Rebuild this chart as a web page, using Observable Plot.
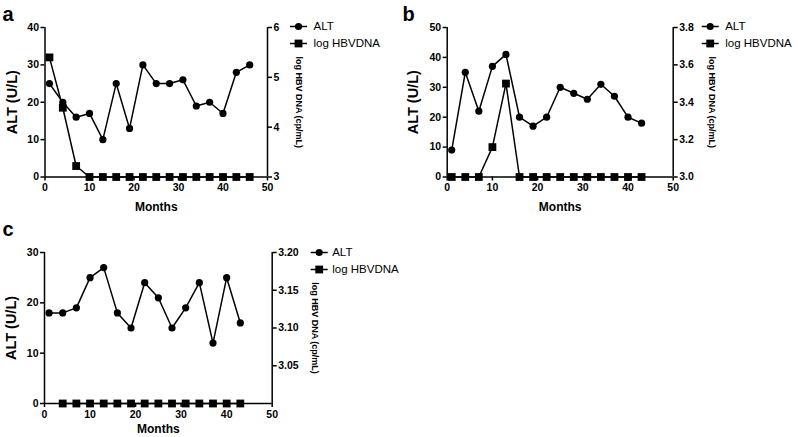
<!DOCTYPE html>
<html>
<head>
<meta charset="utf-8">
<script src="https://cdn.jsdelivr.net/npm/d3@7"></script>
<script src="https://cdn.jsdelivr.net/npm/@observablehq/plot@0.6"></script>
<style>
  body { margin: 0; background: #fff; }
  #wrap { position: relative; width: 798px; height: 437px; background: #fff; font-family: "Liberation Sans", Arial, sans-serif; }
  .panel { position: absolute; }
</style>
</head>
<body>
<div id="wrap"></div>
<script>
// ---------- Data ----------
const xTicks = [0, 10, 20, 30, 40, 50];

// Panel a
const monthsA = [1, 4, 7, 10, 13, 16, 19, 22, 25, 28, 31, 34, 37, 40, 43, 46];
const altA = [25, 20, 16, 17, 10, 25, 13, 30, 25, 25, 26, 19, 20, 17, 28, 30];
const hbvA = [5.4, 4.39, 3.22, 3, 3, 3, 3, 3, 3, 3, 3, 3, 3, 3, 3, 3];
const altTicksA = [0, 10, 20, 30, 40];
const hbvTicksA = [3, 4, 5, 6];

// Panel b
const monthsB = [1, 4, 7, 10, 13, 16, 19, 22, 25, 28, 31, 34, 37, 40, 43];
const altB = [9, 35, 22, 37, 41, 20, 17, 20, 30, 28, 26, 31, 27, 20, 18];
const hbvB = [3, 3, 3, 3.16, 3.5, 3, 3, 3, 3, 3, 3, 3, 3, 3, 3];
const altTicksB = [0, 10, 20, 30, 40, 50];
const hbvTicksB = [3.0, 3.2, 3.4, 3.6, 3.8];

// Panel c
const monthsC = [1, 4, 7, 10, 13, 16, 19, 22, 25, 28, 31, 34, 37, 40, 43];
const altC = [18, 18, 19, 25, 27, 18, 15, 24, 21, 15, 19, 24, 12, 25, 16];
const hbvMonthsC = [4, 7, 10, 13, 16, 19, 22, 25, 28, 31, 34, 37, 40, 43];
const hbvC = [3, 3, 3, 3, 3, 3, 3, 3, 3, 3, 3, 3, 3, 3];
const altTicksC = [0, 10, 20, 30];
const hbvTicksC = [3.05, 3.10, 3.15, 3.20];

const seriesNames = ["ALT", "log HBVDNA"];
const panelLetters = ["a", "b", "c"];
const altTitle = "ALT (U/L)";
const hbvTitle = "log HBV DNA (cp/mL)";
const xTitle = "Months";

// ---------- Drawing ----------
const FONT = '"Liberation Sans", Arial, Helvetica, sans-serif';
const legendLine = { draw(ctx) { ctx.moveTo(-8.5, 0); ctx.lineTo(8.5, 0); } };

function makePanel(cfg) {
  const { left, top, width, height, mL, mR, mT, mB,
    altMonths, alt, hbvMonths, hbv, altMax, altTicks,
    hbvMin, hbvMax, hbvTicks, digits, letter,
    legDx, legTextDx, legDy0, legDy1, titleDx, yTitleDx, xTitleDy } = cfg;
  const toY = v => (v - hbvMin) / (hbvMax - hbvMin) * altMax;
  const fromY = y => hbvMin + y / altMax * (hbvMax - hbvMin);
  const altData = altMonths.map((m, i) => ({ month: m, value: alt[i] }));
  const hbvData = hbvMonths.map((m, i) => ({ month: m, value: hbv[i] }));
  const axisStyle = { fontSize: 10.5, fontWeight: "bold", tickSize: 4, strokeWidth: 1.5, label: null };

  const svg = Plot.plot({
    width, height,
    marginLeft: mL, marginRight: mR, marginTop: mT, marginBottom: mB,
    x: { domain: [0, 50] },
    y: { domain: [0, altMax] },
    style: { fontFamily: FONT, color: "black", background: "white" },
    marks: [
      Plot.axisX({ ...axisStyle, ticks: xTicks, tickPadding: 3 }),
      Plot.axisY({ ...axisStyle, anchor: "left", ticks: altTicks, tickPadding: 2 }),
      Plot.axisY({ ...axisStyle, anchor: "right", tickPadding: 2,
        ticks: hbvTicks.map(toY),
        tickFormat: d => fromY(d).toFixed(digits) }),
      Plot.ruleX([0], { strokeWidth: 1.5 }),
      Plot.ruleX([50], { strokeWidth: 1.5 }),
      Plot.ruleY([0], { strokeWidth: 1.5 }),
      // ALT series
      Plot.line(altData, { x: "month", y: "value", stroke: "black", strokeWidth: 1.5 }),
      Plot.dot(altData, { x: "month", y: "value", r: 3.6, fill: "black", symbol: "circle" }),
      // log HBV DNA series (mapped to right axis)
      Plot.line(hbvData, { x: "month", y: d => toY(d.value), stroke: "black", strokeWidth: 1.5 }),
      Plot.dot(hbvData, { x: "month", y: d => toY(d.value), r: 4.4, fill: "black", symbol: "square" }),
      // axis titles
      Plot.text([altTitle], { frameAnchor: "left", dx: yTitleDx, rotate: -90, fontSize: 14.5, fontWeight: "bold", textAnchor: "middle", lineAnchor: "middle" }),
      Plot.text([xTitle], { frameAnchor: "bottom", dy: xTitleDy, fontSize: 12, fontWeight: "bold", textAnchor: "middle", lineAnchor: "middle" }),
      Plot.text([hbvTitle], { frameAnchor: "right", dx: titleDx, rotate: 90, fontSize: 9, fontWeight: "bold", textAnchor: "middle", lineAnchor: "middle" }),
      // panel letter
      Plot.text([letter], { frameAnchor: "top-left", dx: -mL + 2, dy: -mT + 20, fontSize: 20, fontWeight: "bold", textAnchor: "start", lineAnchor: "bottom" }),
      // legend
      Plot.dot([0], { frameAnchor: "top-right", dx: legDx, dy: legDy0, symbol: legendLine, r: 5, stroke: "black", strokeWidth: 1.5, fill: "none" }),
      Plot.dot([0], { frameAnchor: "top-right", dx: legDx, dy: legDy0, symbol: "circle", r: 3.6, fill: "black" }),
      Plot.dot([0], { frameAnchor: "top-right", dx: legDx, dy: legDy1, symbol: legendLine, r: 5, stroke: "black", strokeWidth: 1.5, fill: "none" }),
      Plot.dot([0], { frameAnchor: "top-right", dx: legDx, dy: legDy1, symbol: "square", r: 4.4, fill: "black" }),
      Plot.text([seriesNames[0]], { frameAnchor: "top-right", dx: legTextDx, dy: legDy0, fontSize: 11.5, textAnchor: "start", lineAnchor: "middle" }),
      Plot.text([seriesNames[1]], { frameAnchor: "top-right", dx: legTextDx, dy: legDy1, fontSize: 11.5, textAnchor: "start", lineAnchor: "middle" })
    ]
  });
  const div = document.createElement("div");
  div.className = "panel";
  div.style.left = left + "px";
  div.style.top = top + "px";
  div.appendChild(svg);
  document.getElementById("wrap").appendChild(div);
}

makePanel({
  left: 0, top: 0, width: 400, height: 215, mL: 44.5, mR: 133, mT: 27, mB: 38.5,
  altMonths: monthsA, alt: altA, hbvMonths: monthsA, hbv: hbvA,
  altMax: 40, altTicks: altTicksA, hbvMin: 3, hbvMax: 6, hbvTicks: hbvTicksA, digits: 0,
  letter: panelLetters[0], legDx: 31, legTextDx: 46, legDy0: -1, legDy1: 16,
  titleDx: 31, yTitleDx: -33, xTitleDy: 30
});

makePanel({
  left: 400, top: 0, width: 398, height: 215, mL: 46.7, mR: 125.3, mT: 27, mB: 38.5,
  altMonths: monthsB, alt: altB, hbvMonths: monthsB, hbv: hbvB,
  altMax: 50, altTicks: altTicksB, hbvMin: 3.0, hbvMax: 3.8, hbvTicks: hbvTicksB, digits: 1,
  letter: panelLetters[1], legDx: 37, legTextDx: 52, legDy0: -1, legDy1: 16,
  titleDx: 39, yTitleDx: -34, xTitleDy: 30
});

makePanel({
  left: 0, top: 215, width: 400, height: 222, mL: 44, mR: 128.3, mT: 37, mB: 34,
  altMonths: monthsC, alt: altC, hbvMonths: hbvMonthsC, hbv: hbvC,
  altMax: 30, altTicks: altTicksC, hbvMin: 3.0, hbvMax: 3.2, hbvTicks: hbvTicksC, digits: 2,
  letter: panelLetters[2], legDx: 47, legTextDx: 60, legDy0: 0, legDy1: 17,
  titleDx: 43, yTitleDx: -33, xTitleDy: 26
});
</script>
</body>
</html>
